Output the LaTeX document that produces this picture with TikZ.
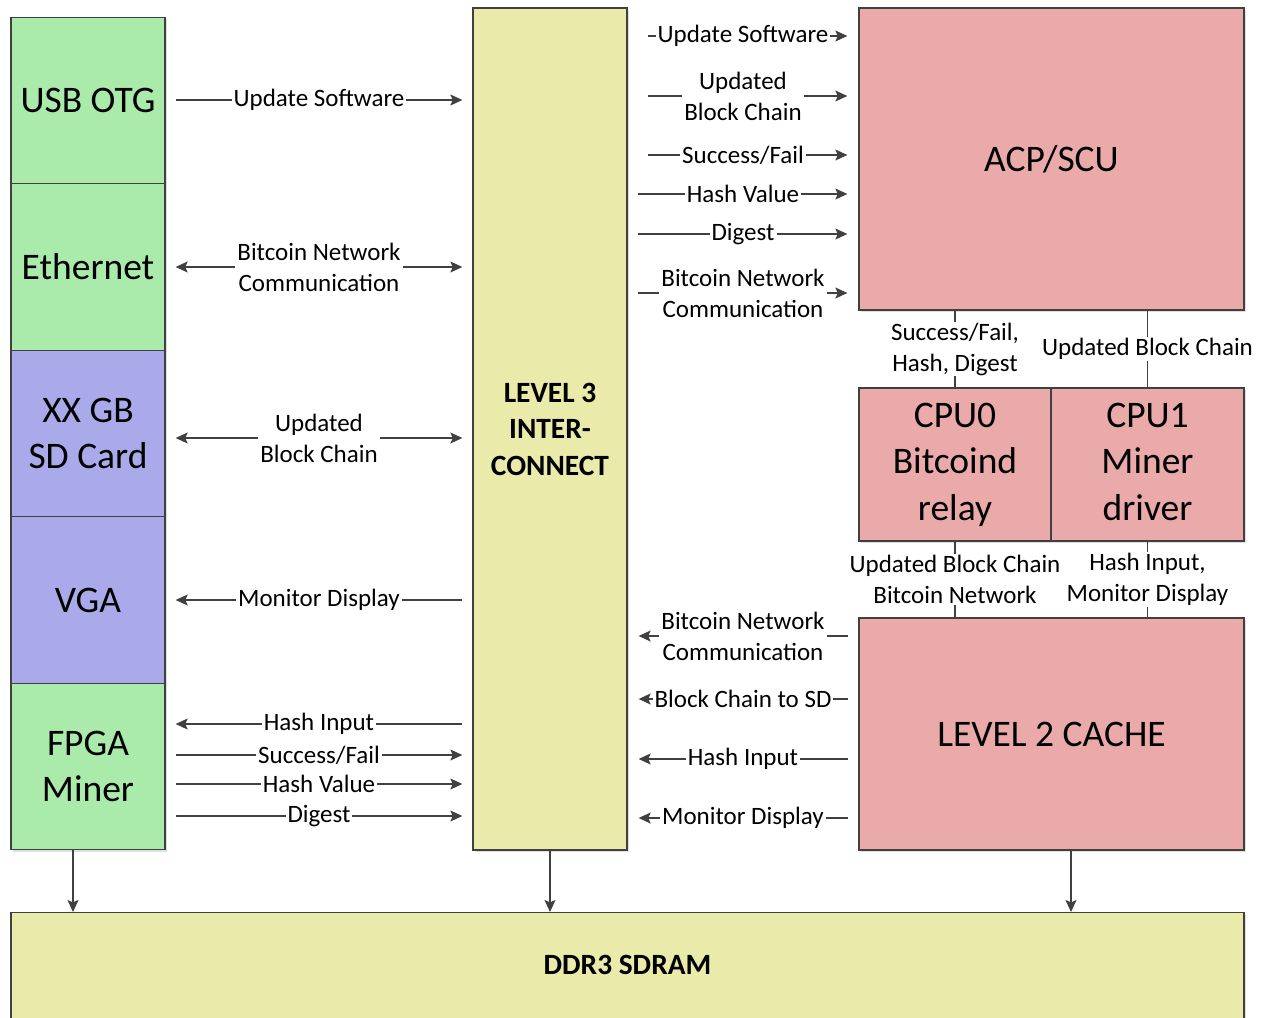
\documentclass[tikz,border=0pt]{standalone}
\usepackage{fontspec}
\setmainfont{Carlito}
\usetikzlibrary{arrows.meta, positioning, shadows}
\definecolor{lineGrey}{HTML}{404040}
\definecolor{ioGreen}{HTML}{AAEAAA}
\definecolor{ioPurple}{HTML}{AAAAEA}
\definecolor{busYellow}{HTML}{EAEAAA}
\definecolor{cpuPink}{HTML}{EAAAAA}
\tikzset{
  unitbox/.style={draw=lineGrey, line width=0.65pt, align=center, inner sep=0pt,
    font=\fontsize{18.75}{23.25}\selectfont,
    drop shadow={shadow xshift=1pt, shadow yshift=-1pt, opacity=0.25}},
  iobox/.style={unitbox, minimum width=77pt, minimum height=83.25pt},
  cpubox/.style={unitbox, fill=cpuPink, minimum height=76.5pt, text depth=3pt},
  busbox/.style={unitbox, fill=busYellow, font=\fontsize{14.7}{18.25}\selectfont\bfseries},
  wire/.style={lineGrey, line width=0.6pt},
  sigfwd/.style={wire, ->},
  sigback/.style={wire, <-},
  sigboth/.style={wire, <->},
  siglabel/.style={fill=white, text=black, inner xsep=1pt, inner ysep=0.5pt, align=center,
    font=\fontsize{12.5}{15.5}\selectfont},
}

\begin{document}
\begin{tikzpicture}[x=0.5pt, y=-0.5pt, >={Stealth[length=6pt, width=5.5pt, inset=1.2pt]}]
  \useasboundingbox (0,0) rectangle (1265,1018);
  \node[iobox, fill=ioGreen] (usb) at (88,100.5) {USB OTG};
  \node[iobox, fill=ioGreen] (eth) at (88,267) {Ethernet};
  \node[iobox, fill=ioPurple] (sd) at (88,433.5) {XX GB\\SD Card};
  \node[iobox, fill=ioPurple] (vga) at (88,600) {VGA};
  \node[iobox, fill=ioGreen] (fpga) at (88,766.5) {FPGA\\Miner};
  \node[busbox, minimum width=77pt, minimum height=421pt] (ic) at (550,429) {LEVEL 3\\INTER-\\CONNECT};
  \node[unitbox, fill=cpuPink, minimum width=192.5pt, minimum height=151pt] (acp) at (1051.5,159) {ACP/SCU};
  \node[cpubox, minimum width=96pt] (cpu0) at (955,464.5) {CPU0\\Bitcoind\\relay};
  \node[cpubox, minimum width=96.5pt] (cpu1) at (1147.5,464.5) {CPU1\\Miner\\driver};
  \node[unitbox, fill=cpuPink, minimum width=192.5pt, minimum height=116pt] (l2) at (1051.5,734) {LEVEL 2 CACHE};
  \node[busbox, minimum width=616.5pt, minimum height=56pt, anchor=north, text depth=4pt] (ddr) at (627.5,912) {DDR3 SDRAM};

  % peripherals <-> interconnect
  \foreach \src/\y/\dir/\txt in {usb/100/sigfwd/{Update Software}, eth/267/sigboth/{Bitcoin Network\\Communication},
      sd/438/sigboth/{Updated\\Block Chain}, vga/600/sigback/{Monitor Display}, fpga/724/sigback/{Hash Input},
      fpga/755/sigfwd/{Success/Fail}, fpga/784/sigfwd/{Hash Value}, fpga/816/sigfwd/{Digest}}{
    \draw[\dir, shorten <=5pt, shorten >=5pt] (\src.east |- 0,\y) -- (ic.west |- 0,\y) node[midway, siglabel] {\txt};}

  % interconnect -> ACP
  \foreach \y/\gap/\txt in {36/10pt/{Update Software}, 96/10pt/{Updated\\Block Chain}, 155/10pt/{Success/Fail},
      194/5pt/{Hash Value}, 234/5pt/{Digest}, 293/5pt/{Bitcoin Network\\Communication}}{
    \draw[sigfwd, shorten <=\gap, shorten >=5.5pt] (ic.east |- 0,\y) -- (acp.west |- 0,\y) node[midway, siglabel] {\txt};}

  % L2 cache -> interconnect
  \foreach \y/\txt in {636/{Bitcoin Network\\Communication}, 699/{Block Chain to SD}, 759/{Hash Input}, 818/{Monitor Display}}{
    \draw[sigfwd, shorten <=5pt, shorten >=5.5pt] (l2.west |- 0,\y) -- (ic.east |- 0,\y) node[midway, siglabel] {\txt};}

  \draw[wire] (cpu0.north |- acp.south) -- (cpu0.north) node[midway, siglabel] {Success/Fail,\\Hash, Digest};
  \draw[wire] (cpu1.north |- acp.south) -- (cpu1.north) node[midway, siglabel] {Updated Block Chain};
  \draw[wire] (cpu0.south) -- (cpu0.south |- l2.north) node[midway, siglabel] {Updated Block Chain\\Bitcoin Network};
  \draw[wire] (cpu1.south) -- (cpu1.south |- l2.north) node[midway, siglabel] {Hash Input,\\Monitor Display};

  % everything lands in the DDR
  \draw[sigfwd] ([xshift=-7.5pt]fpga.south) -- ([xshift=-7.5pt]fpga.south |- ddr.north);
  \draw[sigfwd] (ic.south) -- (ic.south |- ddr.north);
  \draw[sigfwd] ([xshift=9.75pt]l2.south) -- ([xshift=9.75pt]l2.south |- ddr.north);
\end{tikzpicture}
\end{document}
